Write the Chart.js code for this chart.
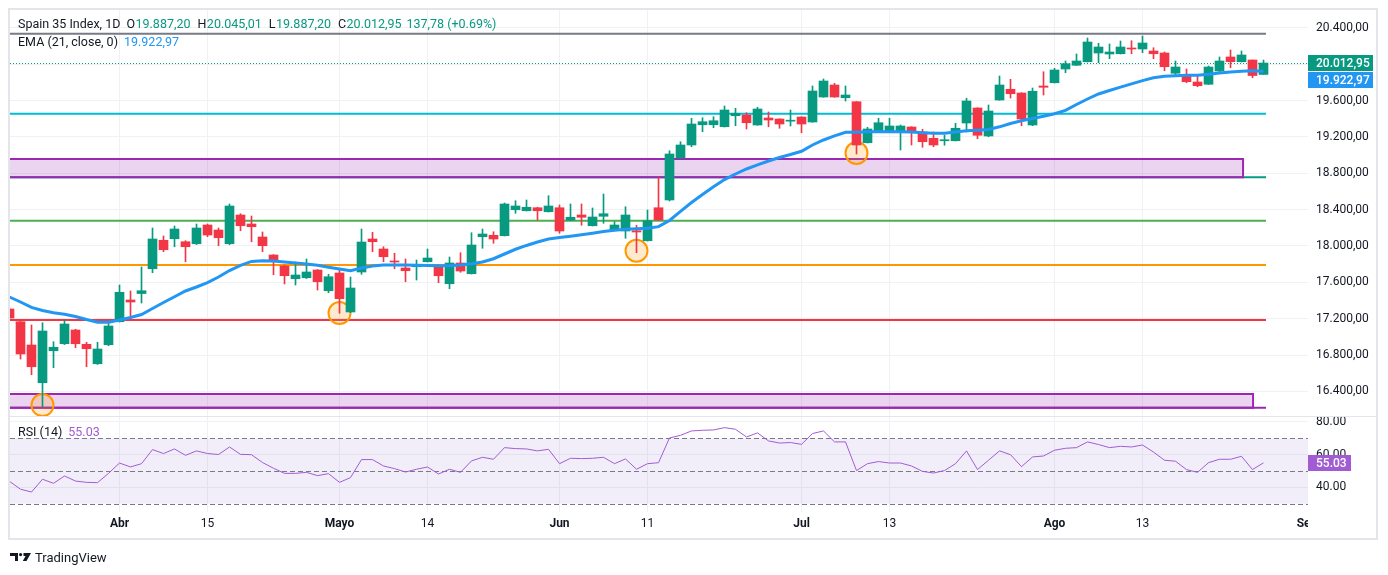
<!DOCTYPE html>
<html lang="es">
<head>
<meta charset="utf-8">
<title>Spain 35 Index, 1D</title>
<script src="https://cdn.jsdelivr.net/npm/chart.js@4.4.1/dist/chart.umd.min.js"></script>
<style>
  html, body { margin: 0; padding: 0; background: #fff; }
  #wrap { position: relative; width: 1388px; height: 575px; overflow: hidden; }
  #wrap canvas { position: absolute; left: 0; top: 0; }
  #brand { position: absolute; left: 10px; top: 548px; height: 18px; display: flex; align-items: center; gap: 3px;
           font: 13px Roboto, sans-serif; color: #131722; }
</style>
</head>
<body>
<div id="wrap">
  <canvas id="priceChart" width="1388" height="575"></canvas>
  <canvas id="rsiChart" width="1388" height="575"></canvas>
  <div id="brand">
    <svg width="22" height="8" viewBox="0 0 22 8">
      <path d="M0 0H8V8H5V3H0Z" fill="#131722"/>
      <circle cx="10.6" cy="1.6" r="1.6" fill="#131722"/>
      <path d="M13.5 0H21L16.5 8H12.8L15.6 3H13.5Z" fill="#131722"/>
    </svg>
    <span>TradingView</span>
  </div>
</div>
<script>
// Spain 35 Index, daily candles
const dates = [
  '2026-03-18', '2026-03-19', '2026-03-20', '2026-03-23', '2026-03-24', '2026-03-25', '2026-03-26', '2026-03-27', '2026-03-30', '2026-03-31',
  '2026-04-01', '2026-04-02', '2026-04-07', '2026-04-08', '2026-04-09', '2026-04-10', '2026-04-13', '2026-04-14', '2026-04-15', '2026-04-16',
  '2026-04-17', '2026-04-20', '2026-04-21', '2026-04-22', '2026-04-23', '2026-04-24', '2026-04-27', '2026-04-28', '2026-04-29', '2026-04-30',
  '2026-05-04', '2026-05-05', '2026-05-06', '2026-05-07', '2026-05-08', '2026-05-11', '2026-05-12', '2026-05-13', '2026-05-14', '2026-05-15',
  '2026-05-18', '2026-05-19', '2026-05-20', '2026-05-21', '2026-05-22', '2026-05-25', '2026-05-26', '2026-05-27', '2026-05-28', '2026-05-29',
  '2026-06-01', '2026-06-02', '2026-06-03', '2026-06-04', '2026-06-05', '2026-06-08', '2026-06-09', '2026-06-10', '2026-06-11', '2026-06-12',
  '2026-06-15', '2026-06-16', '2026-06-17', '2026-06-18', '2026-06-19', '2026-06-22', '2026-06-23', '2026-06-24', '2026-06-25', '2026-06-26',
  '2026-06-29', '2026-06-30', '2026-07-01', '2026-07-02', '2026-07-03', '2026-07-06', '2026-07-07', '2026-07-08', '2026-07-09', '2026-07-10',
  '2026-07-13', '2026-07-14', '2026-07-15', '2026-07-16', '2026-07-17', '2026-07-20', '2026-07-21', '2026-07-22', '2026-07-23', '2026-07-24',
  '2026-07-27', '2026-07-28', '2026-07-29', '2026-07-30', '2026-07-31', '2026-08-03', '2026-08-04', '2026-08-05', '2026-08-06', '2026-08-07',
  '2026-08-10', '2026-08-11', '2026-08-12', '2026-08-13', '2026-08-14', '2026-08-17', '2026-08-18', '2026-08-19', '2026-08-20', '2026-08-21',
  '2026-08-24', '2026-08-25', '2026-08-26', '2026-08-27', '2026-08-28'
];

const opens = [
  17307, 17167, 16911, 16496, 16848, 16925, 17076, 16919, 16705, 16914,
  17167, 17406, 17477, 17750, 18063, 18080, 18047, 18025, 18231, 18176,
  18025, 18341, 18242, 18099, 17901, 17780, 17640, 17651, 17736, 17508,
  17703, 17274, 17714, 18077, 17967, 17835, 17758, 17772, 17827, 17772,
  17585, 17813, 17695, 18102, 18118, 18113, 18399, 18388, 18421, 18377,
  18421, 18283, 18341, 18223, 18327, 18176, 18165, 18168, 18058, 18421,
  18506, 18968, 19111, 19334, 19334, 19312, 19433, 19441, 19331, 19408,
  19397, 19373, 19419, 19364, 19639, 19771, 19631, 19587, 19136, 19265,
  19265, 19265, 19309, 19254, 19185, 19158, 19158, 19353, 19518, 19210,
  19606, 19724, 19683, 19331, 19760, 19796, 19947, 19988, 20027, 20123,
  20112, 20115, 20175, 20167, 20145, 20123, 19900, 19870, 19804, 19779,
  19925, 20079, 20027, 20046, 19887.20
];
const highs = [
  17318, 17175, 17131, 17156, 16947, 17186, 17084, 16941, 16941, 17156,
  17571, 17505, 17769, 18198, 18110, 18220, 18058, 18242, 18242, 18198,
  18462, 18355, 18330, 18154, 17906, 17791, 17824, 17857, 17741, 17689,
  17744, 17659, 18187, 18151, 17992, 17920, 17857, 17846, 17967, 17791,
  17879, 17926, 18146, 18187, 18157, 18473, 18498, 18506, 18426, 18553,
  18451, 18462, 18462, 18418, 18572, 18267, 18432, 18228, 18396, 18756,
  19048, 19147, 19405, 19411, 19422, 19540, 19515, 19466, 19526, 19474,
  19400, 19496, 19422, 19760, 19837, 19790, 19760, 19589, 19306, 19405,
  19405, 19331, 19312, 19284, 19254, 19218, 19350, 19625, 19521, 19551,
  19870, 19834, 19686, 19738, 19917, 19955, 20035, 20112, 20288, 20230,
  20222, 20255, 20258, 20310, 20181, 20134, 20035, 19947, 19878, 19980,
  20079, 20156, 20145, 20046, 20045.01
];
const lows = [
  17197, 16757, 16584, 16232, 16661, 16916, 16881, 16672, 16697, 16903,
  17164, 17194, 17373, 17706, 17937, 17992, 17827, 18016, 18102, 18003,
  18014, 18168, 18047, 17937, 17684, 17582, 17571, 17642, 17516, 17486,
  17260, 17268, 17689, 17937, 17827, 17750, 17607, 17626, 17824, 17596,
  17530, 17711, 17692, 17975, 18030, 18110, 18360, 18385, 18286, 18374,
  18140, 18278, 18228, 18220, 18250, 18171, 18085, 17926, 18055, 18280,
  18495, 18962, 19092, 19257, 19301, 19309, 19323, 19287, 19328, 19312,
  19295, 19320, 19246, 19361, 19636, 19636, 19595, 19012, 19133, 19262,
  19246, 19056, 19111, 19086, 19092, 19108, 19155, 19254, 19180, 19202,
  19603, 19628, 19323, 19323, 19661, 19793, 19906, 19985, 20024, 20016,
  20060, 20112, 20115, 20126, 20060, 19928, 19881, 19796, 19752, 19776,
  19917, 19961, 20024, 19851, 19887.20
];
const closes = [
  17208, 16812, 16672, 17065, 16886, 17142, 16925, 16870, 16867, 17120,
  17491, 17384, 17508, 18077, 17959, 18187, 17992, 18198, 18121, 18091,
  18440, 18223, 18212, 18003, 17827, 17673, 17681, 17714, 17607, 17662,
  17420, 17538, 18044, 18047, 17882, 17824, 17728, 17791, 17868, 17673,
  17813, 17725, 18011, 18132, 18077, 18462, 18440, 18426, 18388, 18440,
  18165, 18316, 18316, 18319, 18355, 18231, 18341, 18154, 18278, 18286,
  19012, 19111, 19342, 19367, 19378, 19496, 19460, 19356, 19507, 19386,
  19342, 19380, 19342, 19705, 19815, 19639, 19661, 19111, 19287, 19356,
  19320, 19320, 19265, 19147, 19111, 19166, 19295, 19595, 19218, 19485,
  19771, 19675, 19397, 19702, 19746, 19936, 20005, 20035, 20244, 20189,
  20134, 20189, 20167, 20233, 20115, 19972, 19969, 19807, 19763, 19969,
  20035, 20027, 20101, 19875, 20012.95
];

// EMA (21, close) as plotted
const ema21 = [
  17439, 17384, 17324, 17291, 17266, 17249, 17224, 17191, 17161, 17161,
  17186, 17213, 17246, 17313, 17378, 17442, 17505, 17549, 17598, 17659,
  17730, 17786, 17830, 17839, 17835, 17824, 17813, 17802, 17789, 17767,
  17747, 17728, 17758, 17780, 17791, 17791, 17791, 17788, 17786, 17783,
  17783, 17791, 17805, 17824, 17860, 17912, 17964, 18006, 18044, 18077,
  18094, 18108, 18124, 18141, 18160, 18173, 18183, 18189, 18195, 18213,
  18281, 18380, 18478, 18566, 18652, 18731, 18792, 18847, 18893, 18935,
  18973, 19006, 19042, 19111, 19166, 19212, 19251, 19251, 19256, 19257,
  19257, 19257, 19254, 19247, 19241, 19240, 19254, 19268, 19274, 19282,
  19311, 19348, 19377, 19402, 19427, 19455, 19492, 19556, 19617, 19672,
  19710, 19747, 19784, 19819, 19850, 19868, 19874, 19878, 19878, 19889,
  19903, 19914, 19923, 19928, 19922.97
];

// RSI (14)
const rsi14 = [
  43.7, 38.9, 37.2, 45.0, 42.5, 47.0, 43.9, 43.1, 42.9, 48.6,
  54.9, 52.5, 54.5, 63.1, 60.7, 63.5, 59.6, 62.3, 60.7, 60.1,
  64.7, 60.2, 60.0, 55.2, 51.7, 48.6, 48.6, 49.2, 47.2, 48.4,
  43.1, 46.0, 57.0, 57.0, 53.1, 51.5, 49.4, 51.1, 52.5, 48.2,
  51.1, 49.2, 56.2, 58.4, 57.2, 64.3, 63.7, 63.5, 62.3, 63.3,
  54.5, 57.8, 57.6, 57.8, 58.4, 54.5, 57.4, 51.1, 54.5, 55.1,
  70.2, 71.8, 74.5, 74.9, 75.1, 76.5, 75.5, 70.8, 73.3, 68.4,
  67.1, 67.4, 66.3, 72.9, 74.5, 67.8, 67.8, 50.3, 54.5, 55.8,
  54.9, 54.9, 53.1, 49.8, 48.8, 50.3, 54.5, 62.3, 50.9, 56.6,
  62.3, 60.0, 52.7, 58.6, 59.2, 62.7, 63.9, 64.3, 67.8, 66.2,
  64.3, 65.1, 64.7, 65.9, 61.6, 56.6, 56.0, 50.9, 49.2, 55.1,
  57.2, 57.2, 59.0, 50.9, 55.03
];

// Axis ticks
const priceTicks = [16400, 16800, 17200, 17600, 18000, 18400, 18800, 19200, 19600, 20000, 20400];
const rsiTicks = [40, 60, 80];
const rsiBands = [70, 50, 30];
const tickDates = ['2026-04-01', '2026-04-15', '2026-05-04', '2026-05-14', '2026-06-01',
                   '2026-06-11', '2026-07-01', '2026-07-13', '2026-08-03', '2026-08-13'];
const tickLabels = ['Abr', '15', 'Mayo', '14', 'Jun', '11', 'Jul', '13', 'Ago', '13', 'Sep'];
const monthLabels = ['Abr', 'Mayo', 'Jun', 'Jul', 'Ago', 'Sep'];
const sepSlot = 117.95; // first September slot, in the empty space right of the last bar
const changeText = '137,78 (+0.69%)';

// Drawings on the chart (price levels, zones, marked lows)
const levelPrices = [20335, 19455, 18756, 18278, 17791, 17186, 16221];
const levelEnds = [114.23, 114.23, 114.23, 114.23, 114.23, 114.23, 114.23];
const zoneTops = [18957, 16372];
const zoneBottoms = [18756, 16221];
const zoneEnds = [112.14, 113.05];
const pivotIdx = [3, 30, 57, 77];
const pivotPrices = [16250, 17262, 17948, 19023];

// Styles
const UP = '#089981';
const DOWN = '#F23645';
const TEXT = '#131722';
const GRID = '#F0F1F4';
const EMA_COLOR = '#2196F3';
const RSI_COLOR = '#A15CD3';
const levelColors = ['#787B86', '#00BCD4', '#089981', '#4CAF50', '#FF9800', '#F23645', '#9C27B0'];

const X_MIN = 0.045, X_MAX = 118.045;
const tickIdx = tickDates.map(d => dates.indexOf(d)).concat([sepSlot]);

Chart.defaults.font.family = 'Roboto, "Noto Sans", sans-serif';
Chart.defaults.color = TEXT;

function fmtPrice(v) {
    const [i, d] = Number(v).toFixed(2).split('.');
    return i.replace(/\B(?=(\d{3})+(?!\d))/g, '.') + ',' + d;
}

const candleColors = closes.map((c, i) => (c >= opens[i] ? UP : DOWN));
const gridColor = c => (c.tick && c.tick.value > X_MAX - 0.5 ? 'rgba(0,0,0,0)' : GRID);

function xAxis(height, showLabels) {
    return {
        type: 'linear',
        min: X_MIN,
        max: X_MAX,
        offset: false,
        afterBuildTicks: s => { s.ticks = tickIdx.map(v => ({ value: v })); },
        afterFit: s => { s.height = height; s.paddingLeft = 0; s.paddingRight = 0; },
        ticks: {
            display: showLabels,
            autoSkip: false,
            maxRotation: 0,
            padding: 5,
            color: TEXT,
            font: c => ({ size: 12, weight: monthLabels.includes(tickLabels[c.index]) ? 'bold' : 'normal' }),
            callback: (v, idx) => tickLabels[idx]
        },
        grid: { color: gridColor, drawTicks: false, offset: false },
        border: { display: false }
    };
}

function yAxis(min, max, ticks, fmt) {
    return {
        position: 'right',
        min: min,
        max: max,
        afterBuildTicks: s => { s.ticks = ticks.map(v => ({ value: v })); },
        afterFit: s => { s.width = 80; s.paddingTop = 0; s.paddingBottom = 0; },
        ticks: { padding: 8, color: TEXT, font: { size: 12 }, callback: fmt },
        grid: { color: GRID, drawTicks: false },
        border: { display: false }
    };
}

// Horizontal levels, zones and circles sit under the candles
const drawingsPlugin = {
    id: 'drawings',
    beforeDatasetsDraw(chart) {
        const { ctx, chartArea: a, scales: { x, y } } = chart;
        ctx.save();
        ctx.beginPath();
        ctx.rect(a.left, a.top, a.right - a.left, a.bottom - a.top);
        ctx.clip();

        // last price
        const yl = Math.round(y.getPixelForValue(closes[closes.length - 1])) + 0.5;
        ctx.strokeStyle = UP;
        ctx.lineWidth = 1;
        ctx.setLineDash([1, 2]);
        ctx.beginPath();
        ctx.moveTo(a.left, yl);
        ctx.lineTo(a.right, yl);
        ctx.stroke();
        ctx.setLineDash([]);

        ctx.lineWidth = 2;
        levelPrices.forEach((p, k) => {
            const yy = y.getPixelForValue(p);
            ctx.strokeStyle = levelColors[k];
            ctx.beginPath();
            ctx.moveTo(a.left, yy);
            ctx.lineTo(x.getPixelForValue(levelEnds[k]), yy);
            ctx.stroke();
        });

        zoneTops.forEach((t, k) => {
            const y1 = y.getPixelForValue(t);
            const y2 = y.getPixelForValue(zoneBottoms[k]);
            const x1 = a.left - 4;
            const x2 = x.getPixelForValue(zoneEnds[k]);
            ctx.fillStyle = 'rgba(156, 39, 176, 0.2)';
            ctx.fillRect(x1, y1, x2 - x1, y2 - y1);
            ctx.strokeStyle = '#9C27B0';
            ctx.strokeRect(x1, y1, x2 - x1, y2 - y1);
        });

        pivotIdx.forEach((i, k) => {
            ctx.beginPath();
            ctx.arc(x.getPixelForValue(i), y.getPixelForValue(pivotPrices[k]), 11, 0, Math.PI * 2);
            ctx.fillStyle = 'rgba(255, 152, 0, 0.2)';
            ctx.fill();
            ctx.strokeStyle = '#FF9800';
            ctx.stroke();
        });
        ctx.restore();
    }
};

function priceTag(ctx, left, y, w, text, bg) {
    ctx.fillStyle = bg;
    ctx.fillRect(left, Math.round(y) - 8, w, 16);
    ctx.fillStyle = '#fff';
    ctx.font = '500 12px Roboto, sans-serif';
    ctx.textAlign = 'left';
    ctx.textBaseline = 'middle';
    ctx.fillText(text, left + 8, Math.round(y) + 0.5);
}

// Legend text and price tags
const priceOverlay = {
    id: 'priceOverlay',
    afterDraw(chart) {
        const { ctx, chartArea: a, scales: { y } } = chart;
        const last = closes.length - 1;
        ctx.save();
        ctx.font = '12.5px Roboto, sans-serif';
        ctx.textBaseline = 'middle';
        ctx.textAlign = 'left';
        let x = 18;
        const put = (t, c, gap, yy) => {
            ctx.fillStyle = c;
            ctx.fillText(t, x, yy);
            x += ctx.measureText(t).width + gap;
        };
        put('Spain 35 Index, 1D', TEXT, 6, 25);
        put('O', TEXT, 0.5, 25); put(fmtPrice(opens[last]), UP, 7, 25);
        put('H', TEXT, 0.5, 25); put(fmtPrice(highs[last]), UP, 7, 25);
        put('L', TEXT, 0.5, 25); put(fmtPrice(lows[last]), UP, 7, 25);
        put('C', TEXT, 0.5, 25); put(fmtPrice(closes[last]), UP, 5, 25);
        put(changeText, UP, 0, 25);
        x = 18;
        put('EMA (21, close, 0)', TEXT, 6, 42.5);
        put(fmtPrice(ema21[last]), EMA_COLOR, 0, 42.5);

        const yc = y.getPixelForValue(closes[last]);
        const ye = Math.max(y.getPixelForValue(ema21[last]), yc + 17);
        priceTag(ctx, a.right, yc, 65, fmtPrice(closes[last]), UP);
        priceTag(ctx, a.right, ye, 65, fmtPrice(ema21[last]), EMA_COLOR);
        ctx.restore();
    }
};

// RSI band with 70 / 50 / 30 guides
const rsiBandPlugin = {
    id: 'rsiBand',
    beforeDatasetsDraw(chart) {
        const { ctx, chartArea: a, scales: { y } } = chart;
        const yTop = y.getPixelForValue(rsiBands[0]);
        const yBot = y.getPixelForValue(rsiBands[2]);
        ctx.save();
        ctx.fillStyle = 'rgba(126, 87, 194, 0.1)';
        ctx.fillRect(a.left, yTop, a.right - a.left, yBot - yTop);
        ctx.strokeStyle = '#787B86';
        ctx.lineWidth = 1;
        ctx.setLineDash([5, 3]);
        rsiBands.forEach(v => {
            const yy = Math.round(y.getPixelForValue(v)) + 0.5;
            ctx.beginPath();
            ctx.moveTo(a.left, yy);
            ctx.lineTo(a.right, yy);
            ctx.stroke();
        });
        ctx.restore();
    }
};

const rsiOverlay = {
    id: 'rsiOverlay',
    afterDraw(chart) {
        const { ctx, chartArea: a, scales: { y } } = chart;
        const last = rsi14.length - 1;
        ctx.save();
        // hide the part of the time labels that runs under the price scale
        ctx.fillStyle = '#fff';
        ctx.fillRect(a.right, a.bottom + 1, 68, 25);

        ctx.font = '12.5px Roboto, sans-serif';
        ctx.textBaseline = 'middle';
        ctx.textAlign = 'left';
        ctx.fillStyle = TEXT;
        ctx.fillText('RSI (14)', 18, 432.5);
        const w = ctx.measureText('RSI (14)').width;
        ctx.fillStyle = RSI_COLOR;
        ctx.fillText(rsi14[last].toFixed(2), 18 + w + 6, 432.5);

        priceTag(ctx, a.right, y.getPixelForValue(rsi14[last]), 43, rsi14[last].toFixed(2), RSI_COLOR);

        // frame and pane separator
        ctx.strokeStyle = '#E3E5EA';
        ctx.lineWidth = 2;
        ctx.strokeRect(9, 9, 1368, 530);
        ctx.lineWidth = 1;
        ctx.beginPath();
        ctx.moveTo(9, 416.5);
        ctx.lineTo(1377, 416.5);
        ctx.stroke();
        ctx.restore();
    }
};

new Chart(document.getElementById('priceChart'), {
    type: 'bar',
    data: {
        datasets: [
            {
                type: 'line',
                data: ema21.map((v, i) => ({ x: i, y: v })),
                borderColor: EMA_COLOR,
                borderWidth: 3,
                pointRadius: 0,
                tension: 0
            },
            {
                data: opens.map((o, i) => ({ x: i, y: [o, closes[i]] })),
                backgroundColor: candleColors,
                barThickness: 9,
                minBarLength: 1,
                grouped: false
            },
            {
                data: lows.map((l, i) => ({ x: i, y: [l, highs[i]] })),
                backgroundColor: candleColors,
                barThickness: 1,
                grouped: false
            }
        ]
    },
    options: {
        responsive: false,
        animation: false,
        layout: { padding: { left: 10, top: 10, right: 0, bottom: 159 } },
        plugins: { legend: { display: false }, tooltip: { enabled: false } },
        scales: {
            x: xAxis(0, false),
            y: yAxis(16130, 20596, priceTicks, v => fmtPrice(v))
        }
    },
    plugins: [drawingsPlugin, priceOverlay]
});

new Chart(document.getElementById('rsiChart'), {
    type: 'line',
    data: {
        datasets: [{
            data: rsi14.map((v, i) => ({ x: i, y: v })),
            borderColor: RSI_COLOR,
            borderWidth: 1,
            pointRadius: 0,
            tension: 0
        }]
    },
    options: {
        responsive: false,
        animation: false,
        layout: { padding: { left: 10, top: 417, right: 0, bottom: 37 } },
        plugins: { legend: { display: false }, tooltip: { enabled: false } },
        scales: {
            x: xAxis(26, true),
            y: yAxis(25, 83, rsiTicks, v => Number(v).toFixed(2))
        }
    },
    plugins: [rsiBandPlugin, rsiOverlay]
});
</script>
</body>
</html>
